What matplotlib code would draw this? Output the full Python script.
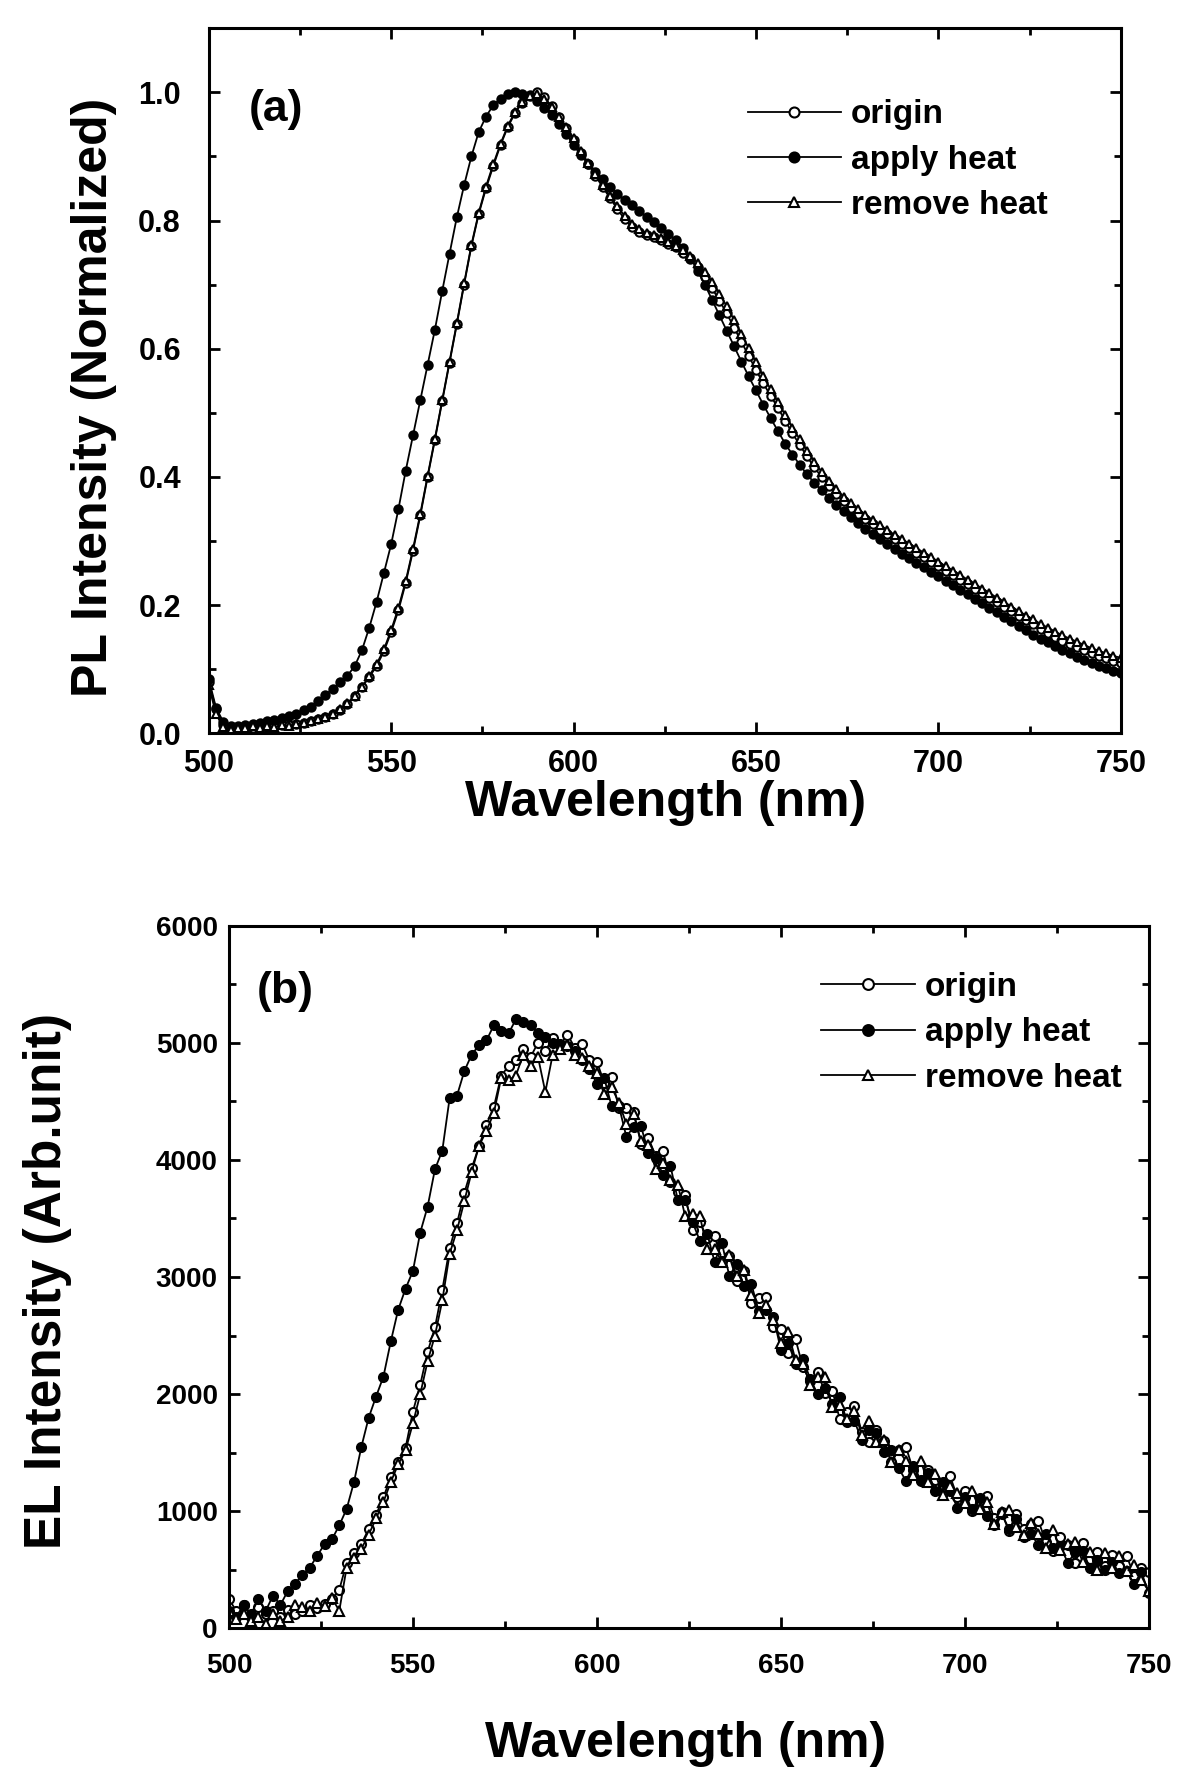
#!/usr/bin/env python3
"""
PL / EL spectra before, during and after heating (two stacked panels).
"""

import numpy as np
import matplotlib
matplotlib.use("Agg")
import matplotlib.pyplot as plt
from matplotlib.ticker import MultipleLocator, FormatStrFormatter

plt.rcParams.update({
    'font.family': ['Liberation Sans', 'DejaVu Sans'],
    'font.weight': 'bold',
    'axes.labelweight': 'bold',
    'axes.linewidth': 2.2,
})

# wavelength grid (nm), 2 nm steps
WAVELENGTH = np.arange(500, 751, 2)

LABELS = ["origin", "apply heat", "remove heat"]

# (a) PL intensity, normalized
PL_ORIGIN = [
    0.080, 0.038, 0.014, 0.008, 0.009, 0.010, 0.008, 0.012, 0.010, 0.012,
    0.013, 0.014, 0.015, 0.017, 0.019, 0.022, 0.026, 0.031, 0.037, 0.046,
    0.058, 0.072, 0.088, 0.105, 0.128, 0.158, 0.192, 0.235, 0.285, 0.340,
    0.400, 0.458, 0.518, 0.578, 0.638, 0.700, 0.760, 0.810, 0.850, 0.885,
    0.918, 0.946, 0.968, 0.984, 0.995, 1.000, 0.992, 0.978, 0.962, 0.945,
    0.925, 0.905, 0.888, 0.870, 0.852, 0.835, 0.818, 0.802, 0.790, 0.782,
    0.778, 0.774, 0.769, 0.764, 0.758, 0.750, 0.740, 0.728, 0.712, 0.694,
    0.675, 0.655, 0.633, 0.611, 0.589, 0.567, 0.546, 0.527, 0.508, 0.488,
    0.468, 0.450, 0.432, 0.415, 0.400, 0.386, 0.373, 0.362, 0.352, 0.343,
    0.334, 0.326, 0.318, 0.311, 0.303, 0.296, 0.289, 0.282, 0.275, 0.268,
    0.261, 0.254, 0.247, 0.240, 0.233, 0.226, 0.219, 0.212, 0.205, 0.198,
    0.191, 0.184, 0.177, 0.170, 0.163, 0.157, 0.151, 0.145, 0.140, 0.135,
    0.130, 0.125, 0.121, 0.117, 0.113, 0.110,
]
PL_APPLY = [
    0.085, 0.040, 0.018, 0.012, 0.012, 0.014, 0.015, 0.017, 0.019, 0.021,
    0.024, 0.027, 0.031, 0.036, 0.042, 0.050, 0.060, 0.070, 0.080, 0.090,
    0.105, 0.130, 0.165, 0.205, 0.250, 0.295, 0.350, 0.410, 0.465, 0.520,
    0.575, 0.630, 0.690, 0.748, 0.805, 0.855, 0.900, 0.938, 0.962, 0.980,
    0.990, 0.997, 1.000, 0.998, 0.994, 0.986, 0.976, 0.964, 0.950, 0.935,
    0.918, 0.902, 0.888, 0.876, 0.864, 0.852, 0.842, 0.832, 0.824, 0.815,
    0.806, 0.797, 0.788, 0.779, 0.769, 0.757, 0.742, 0.722, 0.700, 0.676,
    0.652, 0.628, 0.604, 0.580, 0.557, 0.535, 0.513, 0.492, 0.472, 0.452,
    0.435, 0.419, 0.404, 0.391, 0.379, 0.368, 0.357, 0.347, 0.337, 0.328,
    0.319, 0.311, 0.303, 0.295, 0.287, 0.280, 0.273, 0.266, 0.259, 0.252,
    0.245, 0.238, 0.231, 0.224, 0.217, 0.210, 0.203, 0.196, 0.189, 0.182,
    0.175, 0.168, 0.161, 0.154, 0.148, 0.142, 0.136, 0.130, 0.125, 0.120,
    0.115, 0.110, 0.106, 0.102, 0.098, 0.094,
]
PL_REMOVE = [
    0.075, 0.030, 0.010, 0.006, 0.009, 0.008, 0.011, 0.009, 0.012, 0.010,
    0.013, 0.012, 0.015, 0.016, 0.019, 0.022, 0.026, 0.031, 0.038, 0.047,
    0.059, 0.073, 0.090, 0.108, 0.131, 0.161, 0.196, 0.238, 0.288, 0.343,
    0.402, 0.460, 0.520, 0.580, 0.640, 0.702, 0.762, 0.812, 0.853, 0.888,
    0.920, 0.948, 0.970, 0.985, 0.994, 0.998, 0.990, 0.977, 0.962, 0.946,
    0.928, 0.908, 0.890, 0.872, 0.855, 0.838, 0.822, 0.807, 0.795, 0.786,
    0.781, 0.777, 0.772, 0.767, 0.761, 0.754, 0.745, 0.734, 0.720, 0.704,
    0.686, 0.666, 0.645, 0.623, 0.601, 0.579, 0.557, 0.537, 0.517, 0.497,
    0.477, 0.459, 0.441, 0.424, 0.408, 0.394, 0.381, 0.369, 0.359, 0.350,
    0.341, 0.333, 0.325, 0.317, 0.310, 0.303, 0.296, 0.289, 0.282, 0.275,
    0.268, 0.261, 0.254, 0.247, 0.240, 0.233, 0.226, 0.219, 0.212, 0.205,
    0.198, 0.191, 0.184, 0.178, 0.171, 0.165, 0.159, 0.153, 0.148, 0.143,
    0.138, 0.133, 0.129, 0.125, 0.121, 0.118,
]

# (b) EL intensity, arb. unit
EL_ORIGIN = [
    250, 150, 200, 100, 180, 120, 150, 100, 160, 120,
    150, 200, 170, 210, 250, 330, 560, 640, 720, 850,
    970, 1120, 1290, 1420, 1540, 1850, 2080, 2360, 2570, 2890,
    3250, 3460, 3720, 3930, 4120, 4300, 4450, 4720, 4800, 4850,
    4950, 4880, 5000, 4930, 5040, 4980, 5070, 4960, 4990, 4850,
    4840, 4660, 4710, 4440, 4440, 4410, 4140, 4190, 4030, 4080,
    3810, 3730, 3700, 3400, 3470, 3330, 3350, 3140, 3180, 2970,
    3050, 2780, 2820, 2830, 2570, 2560, 2350, 2470, 2230, 2110,
    2190, 2010, 2030, 1790, 1850, 1900, 1680, 1590, 1690, 1600,
    1420, 1520, 1550, 1350, 1260, 1350, 1270, 1160, 1300, 1120,
    1170, 1000, 1080, 1130, 940, 990, 830, 980, 850, 890,
    920, 740, 660, 780, 710, 560, 730, 590, 650, 530,
    630, 530, 620, 450, 520, 480,
]
EL_APPLY = [
    150, 100, 200, 120, 250, 150, 280, 200, 320, 380,
    460, 520, 620, 720, 760, 880, 1020, 1250, 1550, 1800,
    1980, 2150, 2450, 2720, 2900, 3050, 3380, 3600, 3920, 4080,
    4530, 4550, 4760, 4900, 4980, 5020, 5150, 5100, 5080, 5200,
    5180, 5150, 5080, 5050, 5000, 4990, 4970, 4930, 4850, 4780,
    4650, 4700, 4460, 4460, 4200, 4280, 4290, 4060, 4020, 3870,
    3950, 3660, 3660, 3470, 3310, 3370, 3130, 3290, 3010, 3110,
    2920, 2940, 2710, 2720, 2660, 2380, 2440, 2260, 2300, 2130,
    2000, 2050, 1920, 1980, 1760, 1770, 1610, 1690, 1670, 1510,
    1520, 1370, 1260, 1390, 1270, 1330, 1170, 1250, 1170, 1030,
    1120, 1020, 1110, 960, 880, 980, 850, 930, 780, 810,
    710, 810, 690, 700, 560, 650, 660, 520, 580, 500,
    570, 470, 490, 380, 480, 300,
]
EL_REMOVE = [
    150, 80, 120, 60, 100, 40, 120, 60, 100, 200,
    180, 150, 220, 190, 260, 150, 520, 600, 680, 800,
    940, 1080, 1250, 1400, 1520, 1750, 2000, 2280, 2500, 2800,
    3200, 3400, 3650, 3900, 4120, 4250, 4400, 4700, 4680, 4720,
    4900, 4800, 4880, 4580, 4900, 4950, 4980, 4900, 4870, 4800,
    4740, 4560, 4620, 4490, 4310, 4390, 4160, 4130, 3920, 3970,
    3830, 3790, 3520, 3540, 3520, 3240, 3240, 3130, 3190, 3010,
    3060, 2850, 2690, 2760, 2630, 2440, 2530, 2290, 2260, 2080,
    2150, 2150, 1890, 1910, 1790, 1860, 1650, 1770, 1590, 1610,
    1420, 1520, 1430, 1310, 1430, 1250, 1320, 1140, 1220, 1160,
    1070, 1170, 1020, 1080, 890, 990, 1010, 870, 800, 900,
    810, 690, 840, 670, 720, 740, 570, 650, 500, 640,
    520, 620, 490, 540, 410, 320,
]

STYLES = [
    dict(marker='o', mfc='white', mec='black'),
    dict(marker='o', mfc='black', mec='black'),
    dict(marker='^', mfc='white', mec='black'),
]


def style_axes(ax, ymajor, yminor, yfmt, ypad, xpad, tick_size):
    ax.set_xlim(500, 750)
    ax.xaxis.set_major_locator(MultipleLocator(50))
    ax.xaxis.set_minor_locator(MultipleLocator(25))
    ax.yaxis.set_major_locator(MultipleLocator(ymajor))
    ax.yaxis.set_minor_locator(MultipleLocator(yminor))
    if yfmt:
        ax.yaxis.set_major_formatter(FormatStrFormatter(yfmt))
    ax.tick_params(which='both', direction='in', top=True, right=True, width=2)
    ax.tick_params(which='major', length=8, labelsize=tick_size)
    ax.tick_params(which='minor', length=5)
    ax.tick_params(axis='y', pad=ypad)
    ax.tick_params(axis='x', pad=xpad)
    for lab in ax.get_xticklabels() + ax.get_yticklabels():
        lab.set_fontweight('bold')


def draw_series(ax, series, ms):
    for vals, label, st in zip(series, LABELS, STYLES):
        ax.plot(WAVELENGTH, vals, color='black', lw=1.3, ms=ms, mew=1.5,
                label=label, **st)


def add_legend(ax, anchor):
    ax.legend(loc='upper left', bbox_to_anchor=anchor, frameon=False,
              prop={'size': 24, 'weight': 'bold'}, handlelength=2.8,
              handletextpad=0.3, labelspacing=0.43, borderpad=0,
              borderaxespad=0, markerscale=1.2)


fig = plt.figure(figsize=(11.86, 17.70), dpi=100)

# (a) PL
ax1 = fig.add_axes([0.176, 0.5856, 0.769, 0.3985])
draw_series(ax1, [PL_ORIGIN, PL_APPLY, PL_REMOVE], ms=6)
ax1.set_ylim(0, 1.1)
style_axes(ax1, 0.2, 0.1, '%.1f', ypad=20, xpad=11, tick_size=22)
ax1.set_xlabel('Wavelength (nm)', fontsize=36, fontweight='bold')
ax1.set_ylabel('PL Intensity (Normalized)', fontsize=36, fontweight='bold')
ax1.xaxis.label.set_va('center')
ax1.yaxis.label.set_va('center')
ax1.xaxis.set_label_coords(0.501, -0.098)
ax1.yaxis.set_label_coords(-0.126, 0.477)
ax1.text(0.074, 0.885, '(a)', transform=ax1.transAxes, fontsize=32,
         fontweight='bold', ha='center', va='center')
add_legend(ax1, (0.591, 0.899))

# (b) EL
ax2 = fig.add_axes([0.193, 0.080, 0.7756, 0.397])
draw_series(ax2, [EL_ORIGIN, EL_APPLY, EL_REMOVE], ms=6.5)
ax2.set_ylim(0, 6000)
style_axes(ax2, 1000, 500, None, ypad=8, xpad=18, tick_size=20)
ax2.set_xlabel('Wavelength (nm)', fontsize=36, fontweight='bold')
ax2.set_ylabel('EL Intensity (Arb.unit)', fontsize=37, fontweight='bold')
ax2.xaxis.label.set_va('center')
ax2.yaxis.label.set_va('center')
ax2.xaxis.set_label_coords(0.496, -0.164)
ax2.yaxis.set_label_coords(-0.197, 0.494)
ax2.text(0.0614, 0.907, '(b)', transform=ax2.transAxes, fontsize=32,
         fontweight='bold', ha='center', va='center')
add_legend(ax2, (0.644, 0.934))

fig.savefig('out.png', dpi=100)
